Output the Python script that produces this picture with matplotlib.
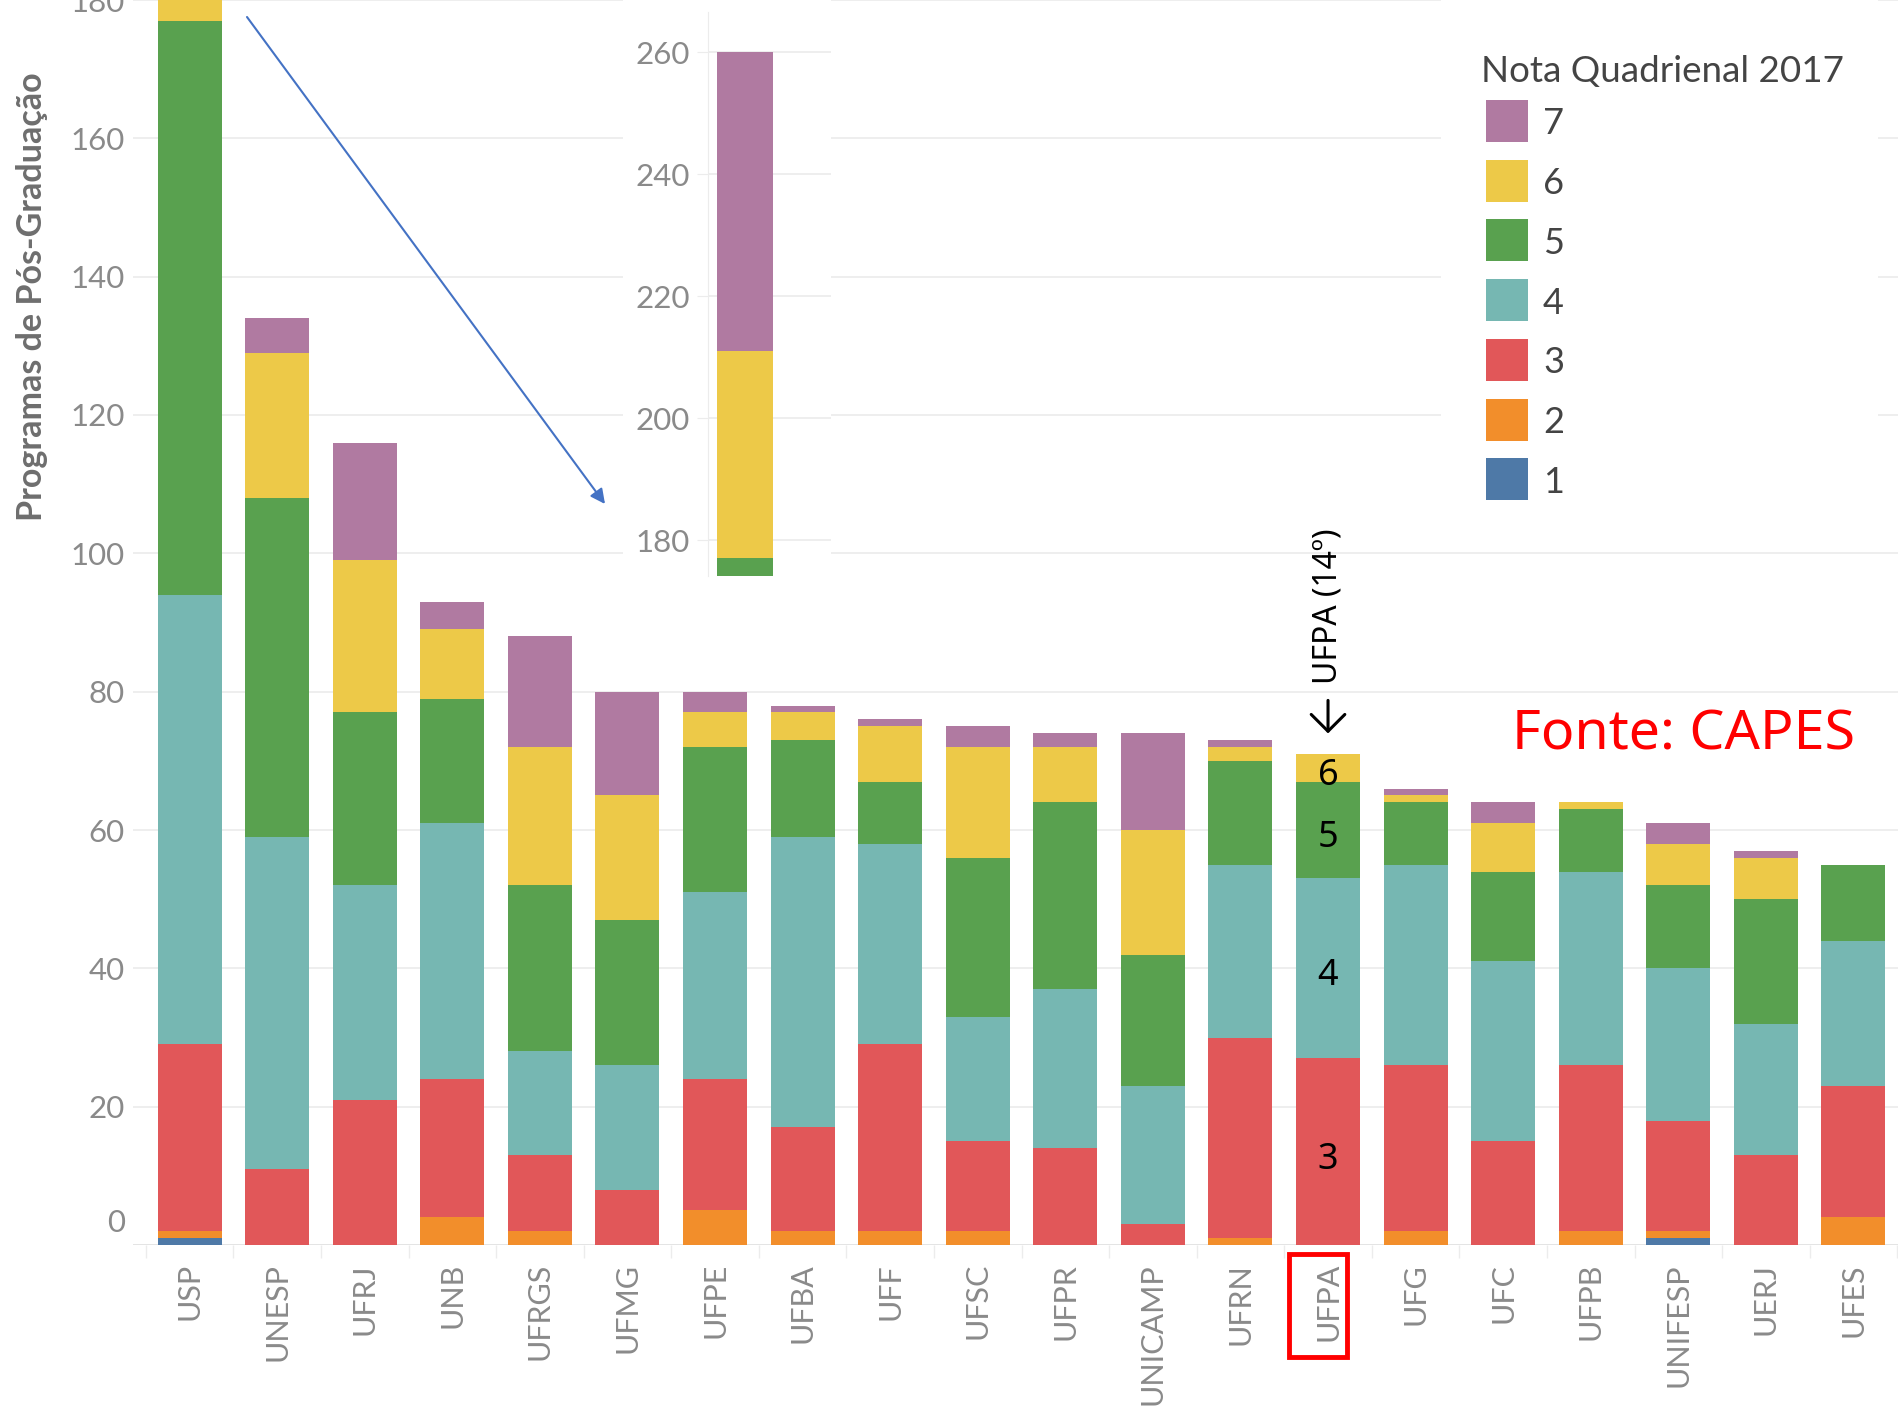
import numpy as np
import matplotlib.pyplot as plt
from matplotlib.patches import Rectangle
from matplotlib.transforms import ScaledTranslation

plt.rcParams['font.family'] = ['Lato', 'DejaVu Sans']

universidades = ['USP', 'UNESP', 'UFRJ', 'UNB', 'UFRGS', 'UFMG', 'UFPE', 'UFBA', 'UFF', 'UFSC',
                 'UFPR', 'UNICAMP', 'UFRN', 'UFPA', 'UFG', 'UFC', 'UFPB', 'UNIFESP', 'UERJ', 'UFES']
notas = ['1', '2', '3', '4', '5', '6', '7']
nota1 = [1, 0, 0, 0, 0, 0, 0, 0, 0, 0, 0, 0, 0, 0, 0, 0, 0, 1, 0, 0]
nota2 = [1, 0, 0, 4, 2, 0, 5, 2, 2, 2, 0, 0, 1, 0, 2, 0, 2, 1, 0, 4]
nota3 = [27, 11, 21, 20, 11, 8, 19, 15, 27, 13, 14, 3, 29, 27, 24, 15, 24, 16, 13, 19]
nota4 = [65, 48, 31, 37, 15, 18, 27, 42, 29, 18, 23, 20, 25, 26, 29, 26, 28, 22, 19, 21]
nota5 = [83, 49, 25, 18, 24, 21, 21, 14, 9, 23, 27, 19, 15, 14, 9, 13, 9, 12, 18, 11]
nota6 = [34, 21, 22, 10, 20, 18, 5, 4, 8, 16, 8, 18, 2, 4, 1, 7, 1, 6, 6, 0]
nota7 = [49, 5, 17, 4, 16, 15, 3, 1, 1, 3, 2, 14, 1, 0, 1, 3, 0, 3, 1, 0]
cores = {'1': '#4E79A7', '2': '#F28E2B', '3': '#E15759', '4': '#76B7B2',
         '5': '#59A14F', '6': '#EDC948', '7': '#B07AA1'}
destaque = 'UFPA'

series = [nota1, nota2, nota3, nota4, nota5, nota6, nota7]

W, H = 1899, 1411
fig = plt.figure(figsize=(W / 100, H / 100), dpi=100)


def fx(px):
    return px / W


def fy(py):
    return 1 - py / H


def desloca(dy_px):
    # shift in pixels (up is positive) on top of the data transform
    return ax.transData + ScaledTranslation(0, dy_px / 100, fig.dpi_scale_trans)


cinza = '#8a8a8a'
grade = '#ebebeb'

# main chart
ax = fig.add_axes([fx(133), fy(1245), 1 - fx(133), 1245 / H])
x = np.arange(len(universidades))
base = np.zeros(len(x))
bases = {}
for nota, vals in zip(notas, series):
    ax.bar(x, vals, width=0.73, bottom=base, color=cores[nota], linewidth=0, zorder=2)
    bases[nota] = base.copy()
    base = base + np.array(vals)

ax.set_xlim(-0.646, 19.52)
ax.set_ylim(0, 180)
ax.set_yticks(range(0, 181, 20))
ax.set_yticklabels([''] + [str(v) for v in range(20, 181, 20)])
ax.grid(axis='y', color=grade, lw=1.2, zorder=0)
ax.set_axisbelow(True)
for s in ax.spines.values():
    s.set_visible(False)
ax.axhline(0, color='#e2e2e2', lw=1.2, zorder=1)
ax.tick_params(axis='y', length=0, pad=6, labelsize=22.5, labelcolor=cinza)
ax.set_xticks(x)
ax.set_xticklabels(universidades, rotation=90, fontsize=22, color=cinza)
ax.tick_params(axis='x', which='major', length=0, pad=13)
ax.set_xticks(np.arange(-0.5, len(x), 1), minor=True)
ax.tick_params(axis='x', which='minor', length=9, color='#ececec', width=1)
ax.text(0, 0, '0', transform=ax.get_yaxis_transform() + ScaledTranslation(-6 / 72, 16 / 72, fig.dpi_scale_trans),
        ha='right', va='center', fontsize=22.5, color=cinza)

fig.text(fx(32), fy(297), 'Programas de Pós-Graduação', rotation=90, ha='center', va='center',
         fontsize=24.5, fontweight='bold', color='#6e6e6e')

# white areas behind inset and legend
fig.add_artist(Rectangle((fx(623), fy(581)), fx(831) - fx(623), 581 / H, transform=fig.transFigure,
                         facecolor='white', edgecolor='none', zorder=1))
fig.add_artist(Rectangle((fx(1441), fy(509)), fx(1878) - fx(1441), 509 / H, transform=fig.transFigure,
                         facecolor='white', edgecolor='none', zorder=1))

# inset with the top of USP
ins = fig.add_axes([fx(708), fy(576), fx(831) - fx(708), (576 - 12) / H])
ins.set_zorder(3)
for nota, vals in zip(notas, series):
    ins.bar(0, vals[0], width=0.8, bottom=bases[nota][0], color=cores[nota], linewidth=0, zorder=2)
ins.set_xlim(-0.522, 1.235)
ins.set_ylim(174.1, 266.6)
ins.set_yticks(range(180, 261, 20))
ins.set_xticks([])
ins.grid(axis='y', color=grade, lw=1.2, zorder=0)
ins.set_axisbelow(True)
for k in ['top', 'right', 'bottom']:
    ins.spines[k].set_visible(False)
ins.spines['left'].set_color('#ececec')
ins.tick_params(axis='y', length=8, color='#ececec', pad=5, labelsize=22.5, labelcolor=cinza)

# legend
fig.text(fx(1481), fy(82), 'Nota Quadrienal 2017', fontsize=26.5, color='#444444', va='baseline', ha='left')
for k, nota in enumerate(notas[::-1]):
    top = 100 + 59.7 * k
    fig.add_artist(Rectangle((fx(1486), fy(top + 42)), fx(42), 42 / H, transform=fig.transFigure,
                             facecolor=cores[nota], edgecolor='none', zorder=6))
    fig.text(fx(1543), fy(top + 24), nota, fontsize=26, color='#444444', va='center', ha='left')

# annotations
i = universidades.index(destaque)
anot = ['Noto Sans', 'DejaVu Sans']
ax.text(i, 89, 'UFPA (14º)', rotation=90, ha='center', va='center', fontsize=23,
        color='black', family=anot, zorder=5, transform=desloca(23))
ax.annotate('', xy=(i, 89), xycoords=desloca(-104), xytext=(i, 89), textcoords=desloca(-71),
            arrowprops=dict(arrowstyle='->, head_length=0.55, head_width=0.55', color='black',
                            lw=2.2, mutation_scale=22, shrinkA=0, shrinkB=0), zorder=5)
for nota, vals in zip(notas, series):
    if nota in ('3', '4', '5', '6') and vals[i] > 0:
        ax.text(i, bases[nota][i] + vals[i] / 2, nota, ha='center', va='center', fontsize=26,
                color='black', family=anot, zorder=5, transform=desloca(-8))
ax.text(17.06, 73.7, 'Fonte: CAPES', ha='center', va='center', fontsize=40, color='#ff0000',
        family=anot, zorder=5)

fig.add_artist(Rectangle((fx(1289), fy(1357)), fx(1347) - fx(1289), (1357 - 1254) / H,
                         transform=fig.transFigure, facecolor='none', edgecolor='#ff0000', lw=3.5, zorder=6))
ax.annotate('', xy=(fx(605), fy(504)), xytext=(fx(247), fy(17)), xycoords='figure fraction',
            textcoords='figure fraction',
            arrowprops=dict(arrowstyle='-|>', color='#4472C4', lw=1.5, mutation_scale=22,
                            shrinkA=0, shrinkB=0))

fig.savefig('out.png', dpi=100)
